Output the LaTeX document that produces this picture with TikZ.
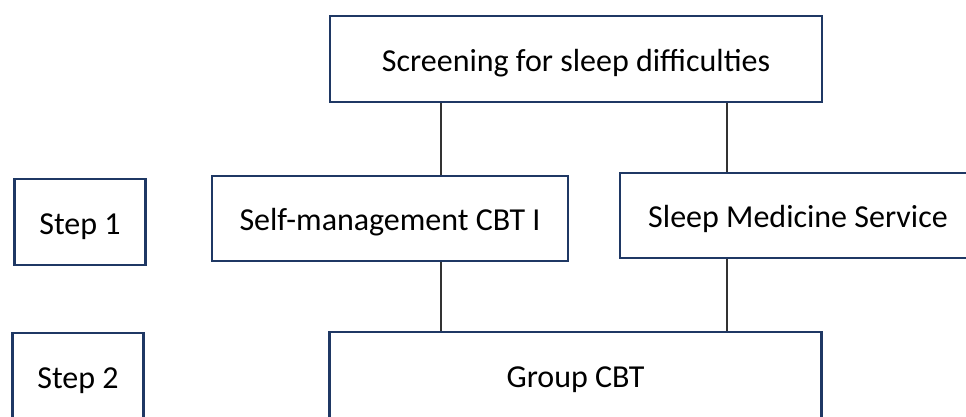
\documentclass[tikz,border=0pt]{standalone}
\usepackage{fontspec}
\setmainfont{Carlito}
\usepackage{xcolor}
\usepackage{tikz}
\usetikzlibrary{positioning}
\definecolor{boxblue}{HTML}{1F3864}

\begin{document}
\begin{tikzpicture}[x=1pt, y=1pt]
        \tikzset{box/.style={rectangle, draw=boxblue, line width=2.2pt, fill=white, inner sep=0pt, text height=25pt, text depth=0pt, font=\fontsize{32}{38}\selectfont}}
        \tikzset{stepbox/.style={box, minimum width=131pt, minimum height=86pt}}
        \tikzset{wide/.style={box, minimum width=492pt, minimum height=86pt}}
        \tikzset{mid/.style={box, minimum width=356pt, minimum height=85pt}}
        \tikzset{link/.style={draw=black!80, line width=1.3pt}}
        \useasboundingbox (0,0) rectangle (966,417);

        % Connector positions
        \coordinate (lx) at (441,0);
        \coordinate (rx) at (727,0);

        % Boxes
        \node [wide] (screen) at (576,358) {Screening for sleep difficulties};
        \node [stepbox] (step1) at (80,195) {Step 1};
        \node [mid] (selfm) at (390,198.5) {Self-management CBT I};
        \node [mid] (sleepmed) at (798,201.5) {Sleep Medicine Service};
        \node [stepbox] (step2) at (78,41) {Step 2};
        \node [wide] (group) at (575.5,42) {Group CBT};

        % Links
        \draw [link] (lx |- screen.south) -- (lx |- selfm.north);
        \draw [link] (rx |- screen.south) -- (rx |- sleepmed.north);
        \draw [link] (lx |- selfm.south) -- (lx |- group.north);
        \draw [link] (rx |- sleepmed.south) -- (rx |- group.north);
    \end{tikzpicture}
\end{document}
